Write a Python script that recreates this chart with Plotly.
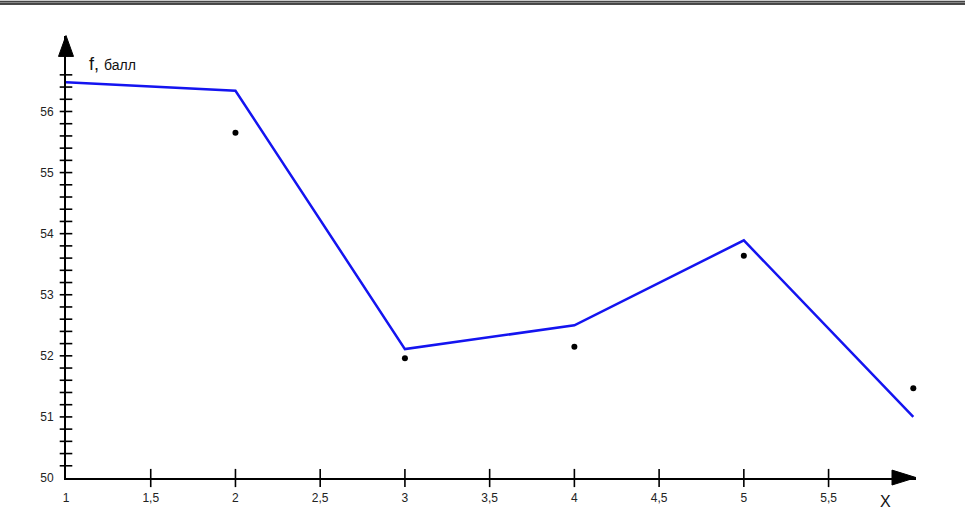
import numpy as np
import plotly.graph_objects as go

# ---- data ----
x_line = [1, 2, 3, 4, 5, 6]
f_line = [56.48, 56.34, 52.11, 52.50, 53.89, 51.00]

x_dots = [2, 3, 4, 5, 6]
f_dots = [55.65, 51.96, 52.15, 53.64, 51.47]

x_tickvals = [1, 1.5, 2, 2.5, 3, 3.5, 4, 4.5, 5, 5.5]
x_ticktext = ["1", "1,5", "2", "2,5", "3", "3,5", "4", "4,5", "5", "5,5"]
y_tickvals = [50, 51, 52, 53, 54, 55, 56]
y_ticktext = ["50", "51", "52", "53", "54", "55", "56"]

# ---- layout geometry (reference pixels, vertical compensation SY) ----
FW = 965
SY = 517 / 509
FH = 517
L, R = 66, 49
T = round(35 * SY)
B = FH - round(480 * SY)
W = FW - L - R
H = FH - T - B
X_RANGE = [1, 1 + W / 169.46]
Y_RANGE = [50, 50 + H / (61.5 * SY)]


def pp(px, py):
    """reference pixel -> paper coordinates"""
    return (px - L) / W, (FH - B - py * SY) / H


fig = go.Figure()

# crossing minor ticks on the y axis (every 0.2)
y_minor = [round(v, 1) for v in np.arange(50.2, 56.61, 0.2)]
fig.add_trace(go.Scatter(
    x=[1] * len(y_minor), y=y_minor, mode="markers",
    marker=dict(symbol="line-ew", size=9, line=dict(color="black", width=1.6)),
    cliponaxis=False, hoverinfo="skip", showlegend=False))

# crossing ticks on the x axis
x_minor = x_tickvals[1:]
fig.add_trace(go.Scatter(
    x=x_minor, y=[50] * len(x_minor), mode="markers",
    marker=dict(symbol="line-ns", size=13, line=dict(color="black", width=1.6)),
    cliponaxis=False, hoverinfo="skip", showlegend=False))

# blue polyline
fig.add_trace(go.Scatter(
    x=x_line, y=f_line, mode="lines",
    line=dict(color="#1414f0", width=2.5),
    cliponaxis=False, showlegend=False))

# black dots
fig.add_trace(go.Scatter(
    x=x_dots, y=f_dots, mode="markers",
    marker=dict(color="black", size=6),
    cliponaxis=False, showlegend=False))

font_family = "Arial, 'Liberation Sans', sans-serif"

fig.update_layout(
    width=FW, height=FH,
    margin=dict(l=L, r=R, t=T, b=B),
    paper_bgcolor="white", plot_bgcolor="white",
    font=dict(family=font_family, color="#222"),
    xaxis=dict(range=X_RANGE, showgrid=False, zeroline=False,
               showline=True, linecolor="black", linewidth=2,
               tickvals=x_tickvals, ticktext=x_ticktext, ticks="",
               ticklabelstandoff=8, tickfont=dict(size=12, color="#222")),
    yaxis=dict(range=Y_RANGE, showgrid=False, zeroline=False,
               showline=True, linecolor="black", linewidth=2,
               tickvals=y_tickvals, ticktext=y_ticktext, ticks="",
               ticklabelstandoff=8, tickfont=dict(size=12, color="#222")),
)

# arrowheads
def tri(p1, p2, p3):
    a, b, c = pp(*p1), pp(*p2), pp(*p3)
    return f"M {a[0]},{a[1]} L {b[0]},{b[1]} L {c[0]},{c[1]} Z"

fig.add_shape(type="path", xref="paper", yref="paper",
              path=tri((66, 35), (58.5, 56), (73.5, 56)),
              fillcolor="black", line=dict(color="black", width=1))
fig.add_shape(type="path", xref="paper", yref="paper",
              path=tri((916, 480), (892, 472.5), (892, 487.5)),
              fillcolor="black", line=dict(color="black", width=1))

# double border at the top of the page
for py, col, w in [(0.5, "#111", 1), (1.8, "#888", 1.2), (3.2, "#111", 1.4)]:
    x0, y0 = pp(0, py)
    x1, _ = pp(FW, py)
    fig.add_shape(type="line", xref="paper", yref="paper",
                  x0=x0, x1=x1, y0=y0, y1=y0,
                  line=dict(color=col, width=w))

# axis titles
ax_, ay_ = pp(87, 76)
fig.add_annotation(xref="paper", yref="paper", x=ax_, y=ay_,
                   xanchor="left", yanchor="bottom", showarrow=False,
                   text="f, <span style='font-size:14px'>балл</span>",
                   font=dict(size=18, color="#111", family=font_family))
bx_, by_ = pp(885, 504)
fig.add_annotation(xref="paper", yref="paper", x=bx_, y=by_,
                   xanchor="center", yanchor="middle", showarrow=False,
                   text="X", font=dict(size=16, color="#111", family=font_family))

fig.write_html(
    "out.html",
    config={"displayModeBar": False, "staticPlot": True},
    post_script=(
        "var s='margin:0;padding:0;overflow:hidden;';"
        "document.documentElement.style.cssText=s;"
        "document.body.style.cssText=s;"
    ),
)
